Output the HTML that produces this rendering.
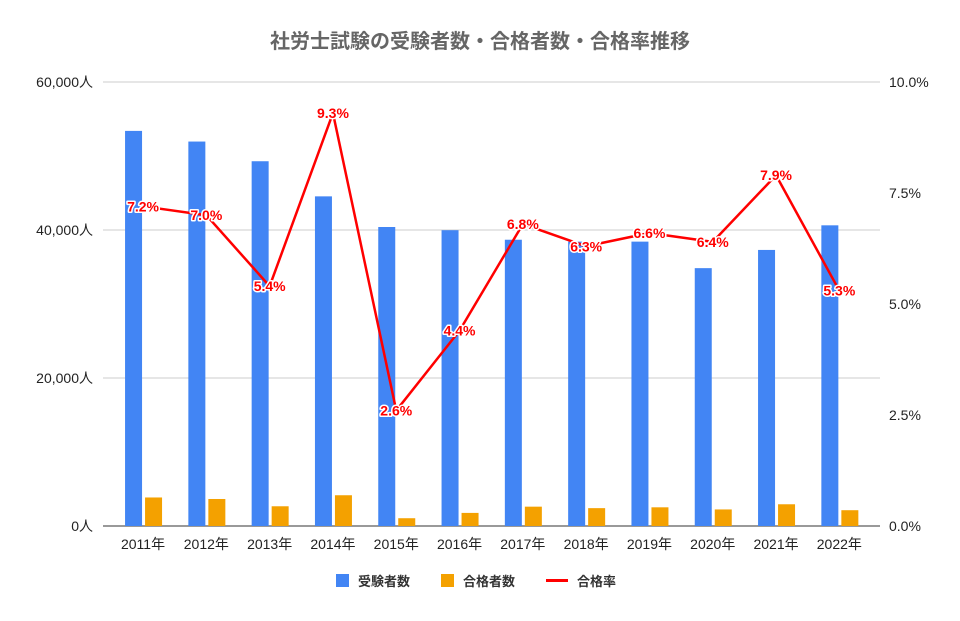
<!DOCTYPE html>
<html><head><meta charset="utf-8">
<style>
body{margin:0;background:#fff;}
svg{display:block;font-family:"Liberation Sans","Noto Sans CJK JP",sans-serif;}
</style></head>
<body>
<svg id="chart" width="960" height="621" viewBox="0 0 960 621">
<text x="480" y="48" text-anchor="middle" font-size="20" font-weight="bold" fill="#666">社労士試験の受験者数・合格者数・合格率推移</text>
<g id="grid"></g><g id="bars"></g><g id="line"></g><g id="labels"></g><g id="axes"></g>
<g>
<rect x="336" y="574" width="13" height="13" fill="#4285f4"/>
<text x="358" y="586" font-size="13" font-weight="bold" fill="#333">受験者数</text>
<rect x="441" y="574" width="13" height="13" fill="#f4a100"/>
<text x="463" y="586" font-size="13" font-weight="bold" fill="#333">合格者数</text>
<rect x="546" y="579" width="22" height="3" fill="#ff0000"/>
<text x="577" y="586" font-size="13" font-weight="bold" fill="#333">合格率</text>
</g>
</svg>
<script>
const categories=["2011年","2012年","2013年","2014年","2015年","2016年","2017年","2018年","2019年","2020年","2021年","2022年"];
const applicants=[53392,51953,49292,44546,40405,39972,38685,38427,38428,34845,37306,40633];
const passers=[3855,3650,2666,4156,1051,1770,2613,2413,2525,2237,2937,2134];
const rates=[7.2,7.0,5.4,9.3,2.6,4.4,6.8,6.3,6.6,6.4,7.9,5.3];
const leftTicks=[0,20000,40000,60000];
const leftTickLabels=["0人","20,000人","40,000人","60,000人"];
const rightTicks=[0,2.5,5,7.5,10];
const rightTickLabels=["0.0%","2.5%","5.0%","7.5%","10.0%"];

const NS="http://www.w3.org/2000/svg";
const X0=111.4,STEP=63.3,Y0=526,YT=82;
const xc=i=>X0+STEP/2+i*STEP;
const yL=v=>Y0-v/60000*(Y0-YT);
const yR=v=>Y0-v/10*(Y0-YT);
function mk(tag,attrs,parent){const e=document.createElementNS(NS,tag);for(const k in attrs)e.setAttribute(k,attrs[k]);parent.appendChild(e);return e;}
const g=id=>document.getElementById(id);

leftTicks.forEach((t,i)=>{
  const ln=mk("line",{x1:103,x2:880,y1:yL(t),y2:yL(t),stroke:i===0?"#333":"#ccc","stroke-width":1},g("grid"));
  
  
  const tx=mk("text",{x:93,y:yL(t)+5,"text-anchor":"end","font-size":14,fill:"#222"},g("axes"));
  tx.textContent=leftTickLabels[i];
  
  
});
rightTicks.forEach((t,i)=>{
  const tx=mk("text",{x:889,y:yR(t)+5,"text-anchor":"start","font-size":14,fill:"#222"},g("axes"));
  tx.textContent=rightTickLabels[i];
  
  
});
categories.forEach((c,i)=>{
  const tx=mk("text",{x:xc(i),y:549,"text-anchor":"middle","font-size":14,fill:"#222"},g("axes"));
  tx.textContent=c;
  
  
  const b=mk("rect",{x:xc(i)-18,y:yL(applicants[i]),width:17,height:Y0-yL(applicants[i]),fill:"#4285f4"},g("bars"));
  
  
  const o=mk("rect",{x:xc(i)+2,y:yL(passers[i]),width:17,height:Y0-yL(passers[i]),fill:"#f4a100"},g("bars"));
  
  
});
const pts=rates.map((r,i)=>xc(i)+","+yR(r)).join(" ");
const pl=mk("polyline",{points:pts,fill:"none",stroke:"#ff0000","stroke-width":2.5,"stroke-linejoin":"round"},g("line"));


rates.forEach((r,i)=>{
  const tx=mk("text",{x:xc(i),y:yR(r)+5,"text-anchor":"middle","font-size":14,"font-weight":"bold",fill:"#ff0000",stroke:"#fff","stroke-width":3,"paint-order":"stroke","stroke-linejoin":"round"},g("labels"));
  tx.textContent=r.toFixed(1)+"%";
  
  
});
</script>
</body></html>
